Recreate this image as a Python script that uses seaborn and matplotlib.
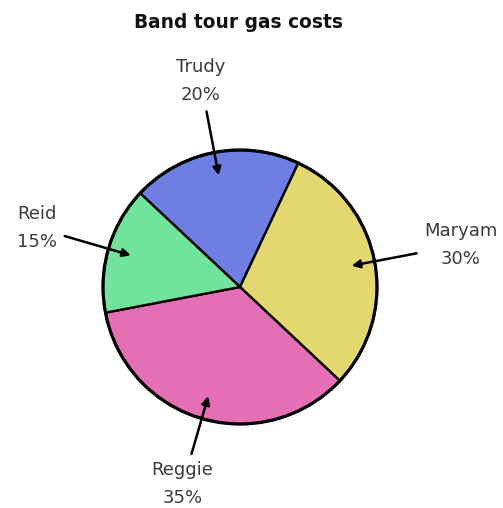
import numpy as np
import matplotlib
matplotlib.use("Agg")
import matplotlib.pyplot as plt
import seaborn as sns

# Share of the band's gas costs per member (clockwise from the top-left)
members = ["Trudy", "Maryam", "Reggie", "Reid"]
shares = [20, 30, 35, 15]
slice_colors = ["#6f7ee3", "#e3d870", "#e46fb5", "#70e39c"]

sns.set_style("white")
plt.rcParams["font.family"] = ["DejaVu Sans"]

W, H = 503, 508
fig = plt.figure(figsize=(W / 100, H / 100), dpi=100)
ax = fig.add_axes([0, 0, 1, 1])

cx, cy, r = 240, H - 287, 137
wedges, _ = ax.pie(
    shares,
    colors=slice_colors,
    startangle=136.8,
    counterclock=False,
    center=(cx, cy),
    radius=r,
    frame=True,
    wedgeprops=dict(edgecolor="black", linewidth=1.7),
)
ax.axis("off")
ax.set_xlim(0, W)
ax.set_ylim(0, H)
ax.set_aspect("equal")

# Outer ring drawn slightly heavier than the slice dividers
ring = plt.Circle((cx, cy), r, fill=False, edgecolor="black", linewidth=2.3, zorder=5)
ax.add_patch(ring)

label_dist = {"Trudy": 1.53, "Maryam": 1.64, "Reggie": 1.50, "Reid": 1.54}
for w, name, pct in zip(wedges, members, shares):
    mid = np.deg2rad((w.theta1 + w.theta2) / 2)
    tip = (cx + 0.83 * r * np.cos(mid), cy + 0.83 * r * np.sin(mid))
    d = label_dist[name] * r
    txt = (cx + d * np.cos(mid), cy + d * np.sin(mid))
    ax.annotate(
        f"{name}\n{pct}%",
        xy=tip,
        xytext=txt,
        ha="center",
        va="center",
        fontsize=13,
        color="#3a3a3a",
        linespacing=1.72,
        arrowprops=dict(
            arrowstyle="-|>",
            color="black",
            lw=1.8,
            shrinkA=3,
            shrinkB=0,
            mutation_scale=12,
        ),
        zorder=6,
    )

fig.text(239 / W, 1 - 22 / H, "Band tour gas costs", ha="center", va="center",
         fontsize=13.4, fontweight="bold", color="#111111")

fig.savefig("out.png", dpi=100)
